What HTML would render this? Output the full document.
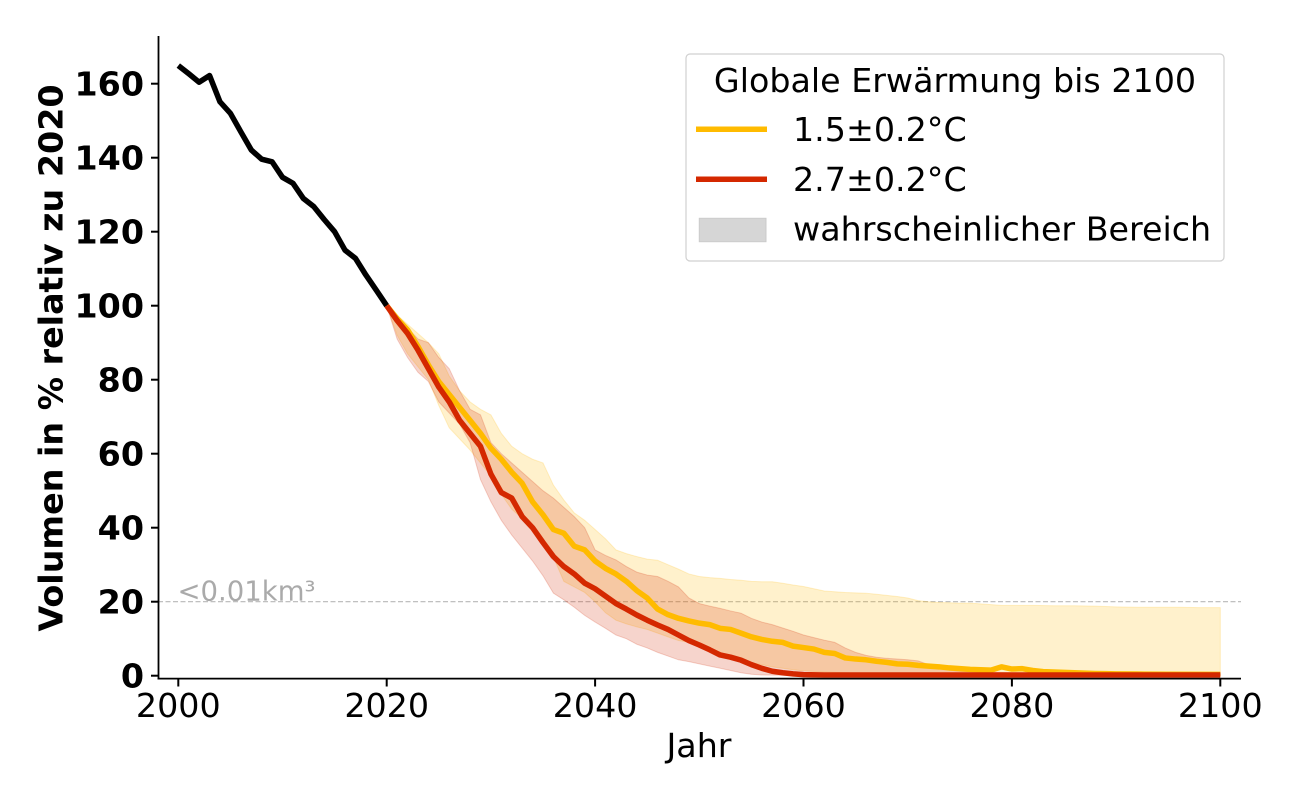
<!DOCTYPE html>
<html>
<head>
<meta charset="utf-8">
<style>
html,body{margin:0;padding:0;background:#fff;}
svg{display:block;}
text{font-family:"DejaVu Sans","Liberation Sans",sans-serif;}
</style>
</head>
<body>
<svg width="1300" height="800" viewBox="0 0 1300 800" xmlns="http://www.w3.org/2000/svg">
<rect width="1300" height="800" fill="#fff"/>

<!-- dashed threshold line -->
<line x1="158" y1="601.7" x2="1241" y2="601.7" stroke="#b8b8b8" stroke-width="1.2" stroke-dasharray="5,2.5"/>
<text x="177.5" y="600.5" font-size="27.5" fill="#aaaaaa">&lt;0.01km³</text>

<g transform="translate(178.3,675.7) scale(10.42,-3.7)">
  <!-- yellow band -->
  <path d="M20,100 L21,97.5 22,95 23,92.5 24,90 25,87 26,81 27,77 28,74 29,72 30,70.5 31,65.5 32,62 33,60 34,58.5 35,57.5 36,51.5 37,47.5 38,44 39,42 40,39.5 41,37 42,34 43,33 44,32.2 45,31.5 46,31.2 47,30 48,28.8 49,27.5 50,26.8 51,26.5 52,26.3 53,26 54,25.8 55,25.5 56,25.4 57,25.4 58,25 59,24.5 60,24.1 61,23.5 62,22.9 63,22.7 64,22.5 65,22.4 66,22.3 67,22 68,21.7 69,21.4 70,21 71,20.3 72,20 73,19.8 74,19.7 75,19.6 76,19.6 77,19.4 78,19.2 79,19 80,19 82,19 84,18.9 86,18.9 88,18.8 90,18.6 92,18.5 94,18.5 96,18.5 98,18.4 100,18.4 L100,0.1 80,0.2 70,0.4 65,0.7 62,1 60,1.3 59,1.6 58,2 57,2.4 56,3 55,3.5 54,4.2 53,5 52,6.3 51,7.5 50,8.2 49,9 48,9.5 47,10.5 46,11.5 45,12.5 44,13.2 43,14 42,15 41,17 40,20 39,22.5 38,24 37,25.5 36,32 35,35.5 34,39.5 33,42.5 32,45 31,49 30,54 29,57.5 28,61 27,64 26,67 25,73 24,80 23,83.5 22,87 21,92 Z"
        fill="#ffbb00" fill-opacity="0.2" stroke="#ffbb00" stroke-opacity="0.2" stroke-width="1" vector-effect="non-scaling-stroke"/>
  <!-- red band -->
  <path d="M20,100 L21,97 22,94 23,91 24,90 25,86 26,83 26.5,80 27,77 28,72 29,70.5 30,63 31,60 32,57.5 33,55 34,52.5 35,50 36,48 37,45.5 38,43 39,40 40,34 41,32.5 42,31.3 43,29.5 44,28 45,27.2 46,26.8 47,25.5 48,24 49,21 50,19.5 51,18.8 52,18.2 53,17.5 54,16.9 55,15.5 56,14.5 57,13.8 58,12.9 59,12 60,11 61,10.3 62,9.6 63,9 64,7.5 65,6.3 66,5.5 67,5 68,4.7 69,4.5 70,4.3 71,4 72,3 73,2.2 74,1.5 75,1.2 77,1 80,0.8 90,0.6 100,0.5 L100,0.05 60,0.1 56,0.2 55,0.4 54,0.8 53,1.4 52,2 51,2.6 50,3.2 49,3.8 48,4.3 47,5.3 46,6.3 45,7.5 44,8.5 43,10 42,11 41,12.8 40,14.5 39,16.3 38,18.5 37,20.5 36,22.3 35,27 34,31 33,34.5 32,38 31,42 30,47 29,53 28,63 27,68 26,71 25,74 24,79.5 23,82 22,86 21,91 Z"
        fill="#d42800" fill-opacity="0.2" stroke="#d42800" stroke-opacity="0.2" stroke-width="1" vector-effect="non-scaling-stroke"/>

  <!-- black historical line -->
  <path d="M0,164.9 L1,162.7 2,160.4 3,162.2 4,155.1 5,152 6,147 7,142.1 8,139.6 9,138.9 10,134.7 11,133.1 12,129 13,126.8 14,123.3 15,120 16,115 17,112.8 18,108.3 19,104.2 20,100"
        fill="none" stroke="#000" stroke-width="5.5" stroke-linejoin="round" vector-effect="non-scaling-stroke"/>

  <!-- yellow mean -->
  <path d="M20,100 L21,96.5 22,93.5 23,89 24,84 25,79.5 26,76 27,72.5 28,69 29,65.5 30,61.5 31,58.5 32,55 33,52 34,47 35,43.5 36,39.5 37,38.5 38,35 39,34 40,31 41,29 42,27.5 43,25.5 44,23 45,21 46,18 47,16.5 48,15.5 49,14.8 50,14.2 51,13.8 52,12.8 53,12.5 54,11.5 55,10.5 56,9.8 57,9.3 58,9 59,8 60,7.6 61,7.2 62,6.3 63,6 64,4.8 65,4.5 66,4.3 67,3.9 68,3.6 69,3.2 70,3.1 71,2.8 72,2.6 73,2.4 74,2.1 75,1.9 76,1.7 77,1.6 78,1.5 79,2.4 80,1.8 81,1.9 82,1.4 83,1.1 84,1 85,0.9 86,0.8 87,0.7 88,0.6 89,0.55 90,0.5 92,0.45 95,0.4 100,0.35"
        fill="none" stroke="#ffbb00" stroke-width="5.5" stroke-linejoin="round" vector-effect="non-scaling-stroke"/>
  <!-- red mean -->
  <path d="M20,100 L21,96 22,92.5 23,88 24,83 25,78 26,74 27,69 28,65.5 29,62 30,54.5 31,49.5 32,48 33,43 34,40 35,36 36,32.2 37,29.5 38,27.5 39,25 40,23.5 41,21.5 42,19.5 43,18 44,16.4 45,15 46,13.7 47,12.5 48,11 49,9.5 50,8.3 51,7 52,5.6 53,5 54,4.2 55,3 56,2 57,1.2 58,0.8 59,0.5 60,0.3 62,0.2 100,0.2"
        fill="none" stroke="#d42800" stroke-width="5.5" stroke-linejoin="round" vector-effect="non-scaling-stroke"/>
</g>

<!-- spines -->
<line x1="158.5" y1="36" x2="158.5" y2="679.5" stroke="#000" stroke-width="1.8"/>
<line x1="157.6" y1="678.6" x2="1241" y2="678.6" stroke="#000" stroke-width="1.8"/>

<!-- y ticks -->
<g stroke="#000" stroke-width="2">
  <line x1="151" y1="675.7" x2="158" y2="675.7"/>
  <line x1="151" y1="601.7" x2="158" y2="601.7"/>
  <line x1="151" y1="527.7" x2="158" y2="527.7"/>
  <line x1="151" y1="453.7" x2="158" y2="453.7"/>
  <line x1="151" y1="379.7" x2="158" y2="379.7"/>
  <line x1="151" y1="305.7" x2="158" y2="305.7"/>
  <line x1="151" y1="231.7" x2="158" y2="231.7"/>
  <line x1="151" y1="157.7" x2="158" y2="157.7"/>
  <line x1="151" y1="83.7" x2="158" y2="83.7"/>
</g>
<g font-size="33.3" font-weight="bold" text-anchor="end" fill="#000">
  <text x="144" y="687.7">0</text>
  <text x="144" y="613.7">20</text>
  <text x="144" y="539.7">40</text>
  <text x="144" y="465.7">60</text>
  <text x="144" y="391.7">80</text>
  <text x="144" y="317.7">100</text>
  <text x="144" y="243.7">120</text>
  <text x="144" y="169.7">140</text>
  <text x="144" y="95.7">160</text>
</g>

<!-- x ticks -->
<g stroke="#000" stroke-width="2">
  <line x1="178.3" y1="679" x2="178.3" y2="686.5"/>
  <line x1="386.7" y1="679" x2="386.7" y2="686.5"/>
  <line x1="595.1" y1="679" x2="595.1" y2="686.5"/>
  <line x1="803.5" y1="679" x2="803.5" y2="686.5"/>
  <line x1="1011.9" y1="679" x2="1011.9" y2="686.5"/>
  <line x1="1220.3" y1="679" x2="1220.3" y2="686.5"/>
</g>
<g font-size="33.3" text-anchor="middle" fill="#000">
  <text x="178.3" y="717">2000</text>
  <text x="386.7" y="717">2020</text>
  <text x="595.1" y="717">2040</text>
  <text x="803.5" y="717">2060</text>
  <text x="1011.9" y="717">2080</text>
  <text x="1220.3" y="717">2100</text>
</g>

<!-- axis labels -->
<text x="699" y="757" font-size="33.3" text-anchor="middle" fill="#000">Jahr</text>
<text transform="translate(62.5,358) rotate(-90)" x="0" y="0" font-size="33.3" font-weight="bold" text-anchor="middle" fill="#000">Volumen in % relativ zu 2020</text>

<!-- legend -->
<rect x="686" y="54" width="538" height="207" rx="4" ry="4" fill="#fff" fill-opacity="0.8" stroke="#d0d0d0" stroke-width="1.2"/>
<text x="955" y="92" font-size="33.3" text-anchor="middle" fill="#000">Globale Erwärmung bis 2100</text>
<line x1="696" y1="129.3" x2="767" y2="129.3" stroke="#ffbb00" stroke-width="5.5"/>
<text x="793" y="141" font-size="33.3" fill="#000">1.5±0.2°C</text>
<line x1="696" y1="179.3" x2="767" y2="179.3" stroke="#d42800" stroke-width="5.5"/>
<text x="793" y="191" font-size="33.3" fill="#000">2.7±0.2°C</text>
<rect x="699.3" y="218.3" width="66.7" height="23.4" fill="#d6d6d6" stroke="#cbcbcb" stroke-width="1"/>
<text x="793" y="240.5" font-size="33.3" fill="#000">wahrscheinlicher Bereich</text>
</svg>
</body>
</html>
